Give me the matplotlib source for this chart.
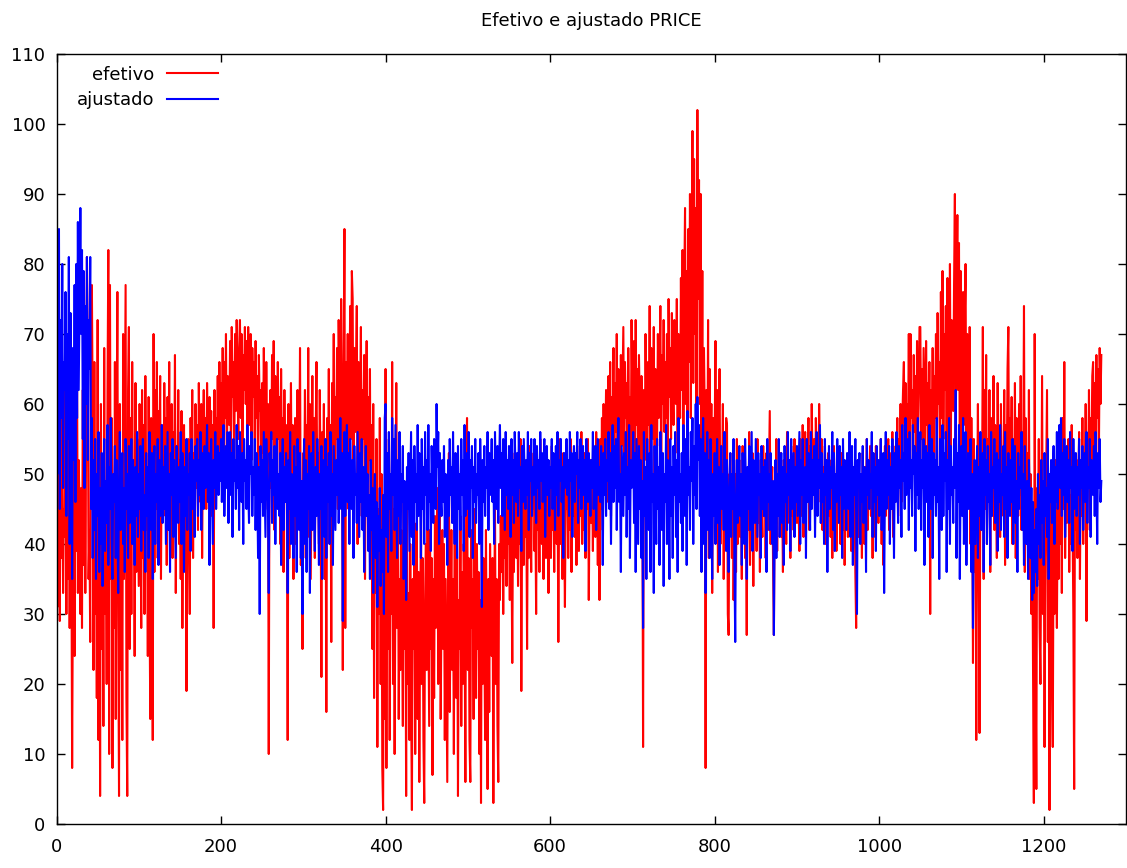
import matplotlib
matplotlib.use("Agg")
import matplotlib.pyplot as plt
import numpy as np

title = "Efetivo e ajustado PRICE"
label_efetivo = "efetivo"
label_ajustado = "ajustado"
x_ticks = [0, 200, 400, 600, 800, 1000, 1200]
y_ticks = [0, 10, 20, 30, 40, 50, 60, 70, 80, 90, 100, 110]

efetivo = [
    57, 31, 48, 62, 29, 52, 38, 60, 33, 45,
    41, 63, 30, 55, 35, 58, 28, 50, 44, 8,
    36, 60, 24, 57, 39, 64, 33, 52, 45, 30,
    48, 28, 62, 37, 70, 33, 55, 81, 67, 35,
    42, 26, 72, 77, 58, 22, 66, 30, 47, 18,
    72, 12, 55, 4, 60, 25, 50, 14, 68, 30,
    45, 20, 62, 82, 10, 77, 35, 58, 8, 50,
    28, 66, 15, 54, 76, 30, 4, 60, 22, 48,
    12, 70, 35, 55, 77, 18, 4, 62, 71, 25,
    58, 30, 66, 40, 52, 24, 63, 36, 55, 45,
    34, 60, 46, 28, 62, 38, 57, 30, 64, 42,
    50, 24, 61, 33, 15, 58, 40, 12, 70, 36,
    62, 45, 66, 38, 59, 48, 64, 35, 57, 52,
    44, 63, 50, 58, 37, 61, 47, 66, 42, 55,
    60, 38, 56, 48, 67, 33, 54, 45, 62, 40,
    52, 35, 59, 28, 48, 57, 37, 50, 19, 44,
    55, 41, 30, 58, 47, 62, 38, 53, 44, 60,
    48, 57, 42, 63, 51, 46, 60, 38, 55, 62,
    50, 58, 45, 63, 54, 47, 61, 52, 59, 44,
    57, 28, 62, 49, 58, 53, 64, 50, 66, 55,
    63, 55, 68, 52, 66, 58, 70, 50, 64, 60,
    57, 69, 53, 71, 61, 66, 50, 70, 59, 72,
    64, 55, 68, 72, 58, 70, 49, 67, 62, 71,
    60, 69, 54, 71, 63, 57, 70, 52, 68, 61,
    66, 55, 69, 58, 64, 50, 67, 59, 62, 48,
    63, 53, 68, 57, 45, 66, 52, 60, 10, 58,
    62, 48, 67, 55, 69, 42, 64, 58, 50, 66,
    55, 61, 40, 65, 50, 58, 36, 62, 47, 57,
    45, 12, 60, 38, 52, 63, 42, 57, 35, 48,
    58, 40, 54, 62, 46, 50, 68, 37, 44, 25,
    53, 45, 62, 38, 57, 48, 68, 41, 60, 35,
    50, 64, 43, 58, 38, 55, 66, 46, 53, 40,
    62, 48, 21, 56, 44, 60, 35, 52, 16, 58,
    47, 65, 40, 57, 26, 63, 50, 70, 43, 61,
    55, 68, 45, 72, 60, 50, 75, 58, 22, 64,
    85, 28, 66, 52, 70, 45, 62, 74, 55, 79,
    75, 48, 68, 56, 63, 74, 40, 66, 52, 60,
    71, 44, 62, 55, 67, 35, 58, 69, 47, 61,
    52, 65, 38, 57, 25, 60, 18, 49, 33, 55,
    11, 45, 30, 58, 20, 50, 8, 2, 42, 15,
    65, 8, 48, 25, 55, 12, 40, 30, 66, 20,
    45, 10, 38, 63, 28, 50, 15, 35, 22, 42,
    30, 14, 48, 25, 38, 4, 45, 20, 33, 12,
    40, 18, 2, 35, 25, 43, 10, 30, 43, 15,
    36, 6, 28, 45, 20, 38, 12, 3, 32, 40,
    22, 46, 30, 14, 42, 25, 38, 7, 35, 18,
    44, 28, 40, 48, 20, 36, 45, 15, 32, 42,
    25, 40, 12, 35, 20, 6, 38, 53, 16, 30,
    42, 22, 35, 10, 45, 28, 18, 38, 4, 32,
    25, 44, 14, 36, 20, 40, 30, 6, 48, 58,
    22, 38, 12, 6, 42, 28, 35, 15, 45, 30,
    18, 40, 25, 36, 10, 32, 3, 44, 20, 38,
    28, 12, 42, 22, 5, 35, 16, 40, 30, 24,
    38, 3, 30, 45, 20, 35, 14, 6, 40, 32,
    44, 36, 50, 30, 46, 38, 52, 34, 48, 40,
    45, 32, 51, 40, 23, 47, 36, 53, 42, 38,
    50, 34, 46, 40, 55, 19, 44, 48, 37, 52,
    41, 47, 25, 50, 38, 54, 43, 36, 49, 45,
    53, 39, 46, 30, 51, 42, 48, 36, 55, 44,
    40, 50, 35, 47, 53, 38, 45, 49, 33, 51,
    46, 38, 54, 42, 48, 36, 52, 44, 40, 50,
    26, 47, 55, 40, 49, 35, 53, 43, 31, 48,
    45, 52, 38, 50, 42, 55, 36, 48, 44, 53,
    41, 49, 37, 54, 46, 39, 51, 44, 56, 40,
    48, 42, 53, 38, 50, 45, 55, 32, 47, 52,
    43, 50, 39, 54, 46, 41, 56, 48, 37, 52,
    32, 55, 45, 58, 42, 60, 48, 53, 62, 46,
    58, 64, 50, 66, 44, 61, 55, 68, 48, 63,
    56, 70, 50, 65, 59, 47, 67, 54, 62, 71,
    52, 66, 58, 63, 45, 68, 55, 61, 50, 72,
    60, 54, 69, 48, 72, 57, 65, 50, 67, 59,
    46, 64, 55, 11, 62, 52, 70, 58, 48, 66,
    57, 74, 50, 68, 60, 55, 71, 45, 65, 62,
    54, 70, 58, 64, 74, 50, 67, 60, 72, 56,
    66, 58, 70, 52, 75, 61, 68, 55, 73, 63,
    57, 72, 64, 60, 75, 53, 70, 66, 58, 78,
    62, 82, 55, 76, 88, 60, 79, 52, 85, 66,
    90, 58, 80, 99, 63, 95, 70, 88, 56, 102,
    75, 92, 60, 90, 54, 79, 48, 68, 58, 8,
    62, 45, 72, 38, 65, 50, 60, 33, 58, 47,
    55, 69, 42, 62, 36, 57, 65, 40, 53, 48,
    60, 35, 52, 44, 58, 57, 30, 27, 50, 42,
    48, 38, 53, 32, 45, 50, 36, 55, 40, 47,
    52, 41, 46, 35, 54, 43, 49, 38, 44, 27,
    50, 42, 56, 37, 48, 45, 53, 34, 51, 44,
    47, 39, 55, 43, 50, 36, 52, 46, 41, 54,
    44, 49, 38, 53, 45, 42, 50, 59, 40, 48,
    51, 37, 27, 46, 42, 55, 39, 50, 44, 48,
    53, 41, 47, 36, 52, 45, 49, 40, 56, 43,
    46, 51, 38, 54, 44, 48, 42, 55, 47, 50,
    43, 52, 46, 39, 55, 48, 44, 57, 41, 50,
    56, 45, 53, 49, 58, 42, 54, 47, 60, 51,
    48, 55, 44, 58, 50, 53, 46, 60, 52, 49,
    55, 42, 51, 47, 54, 40, 50, 45, 53, 44,
    49, 41, 52, 38, 47, 54, 43, 50, 39, 46,
    51, 44, 48, 40, 53, 46, 42, 50, 37, 47,
    45, 52, 41, 49, 44, 54, 39, 47, 51, 43,
    48, 36, 28, 46, 52, 41, 50, 44, 49, 38,
    53, 45, 40, 51, 47, 55, 42, 48, 46, 54,
    44, 50, 38, 52, 47, 41, 54, 45, 49, 43,
    51, 46, 55, 40, 52, 37, 48, 54, 44, 50,
    47, 55, 42, 53, 49, 45, 56, 41, 52, 48,
    54, 47, 58, 44, 55, 50, 60, 46, 57, 62,
    66, 52, 63, 48, 60, 55, 70, 51, 70, 58,
    62, 50, 67, 56, 64, 47, 69, 53, 61, 71,
    71, 55, 65, 48, 68, 60, 52, 69, 57, 63,
    50, 66, 30, 62, 54, 68, 47, 64, 58, 70,
    52, 73, 60, 66, 48, 76, 58, 79, 55, 70,
    62, 74, 50, 78, 66, 57, 80, 52, 72, 64,
    59, 77, 90, 54, 75, 87, 62, 83, 50, 79,
    68, 48, 76, 57, 72, 80, 45, 70, 60, 52,
    71, 40, 58, 48, 23, 55, 36, 50, 12, 45,
    60, 38, 13, 52, 42, 48, 71, 35, 62, 45,
    67, 40, 55, 47, 62, 36, 58, 44, 52, 64,
    42, 57, 50, 38, 63, 46, 55, 41, 60, 48,
    53, 44, 62, 37, 57, 49, 65, 71, 45, 58,
    50, 61, 40, 55, 46, 63, 38, 58, 52, 44,
    60, 47, 64, 42, 56, 50, 74, 36, 58, 45,
    53, 41, 62, 35, 50, 30, 44, 22, 3, 70,
    25, 5, 48, 35, 55, 28, 20, 42, 64, 30,
    45, 11, 38, 50, 62, 26, 40, 2, 33, 48,
    20, 11, 44, 30, 52, 38, 28, 46, 35, 55,
    40, 50, 33, 58, 45, 66, 38, 52, 43, 48,
    55, 36, 47, 40, 57, 44, 30, 5, 50, 42,
    52, 38, 48, 56, 35, 50, 44, 58, 40, 53,
    46, 60, 29, 55, 48, 62, 42, 58, 52, 64,
    66, 50, 63, 55, 67, 58, 65, 52, 68, 60,
    67,
]

ajustado = [
    70, 50, 76, 85, 45, 72, 58, 80, 48, 66,
    62, 76, 44, 70, 55, 81, 40, 73, 60, 35,
    68, 52, 77, 46, 80, 58, 86, 62, 75, 88,
    70, 82, 55, 79, 48, 74, 60, 81, 52, 72,
    65, 81, 45, 58, 38, 52, 42, 55, 35, 50,
    44, 56, 36, 48, 40, 53, 34, 47, 55, 39,
    49, 43, 57, 37, 51, 45, 58, 41, 35, 50,
    46, 54, 38, 52, 44, 33, 49, 56, 42, 47,
    53, 40, 48, 36, 55, 45, 50, 38, 54, 43,
    48, 55, 40, 52, 46, 37, 51, 44, 56, 41,
    50, 45, 54, 39, 49, 55, 42, 47, 36, 53,
    44, 51, 38, 56, 46, 42, 53, 35, 48, 54,
    40, 50, 46, 55, 37, 52, 44, 49, 57, 43,
    51, 45, 54, 40, 48, 56, 42, 50, 36, 53,
    47, 55, 41, 52, 45, 38, 54, 48, 43, 51,
    46, 56, 40, 53, 49, 36, 51, 44, 55, 42,
    50, 47, 53, 39, 55, 45, 52, 48, 41, 54,
    49, 55, 44, 52, 47, 56, 42, 53, 50, 45,
    54, 48, 51, 57, 46, 53, 37, 50, 55, 47,
    40, 52, 48, 56, 45, 51, 54, 47, 53, 49,
    55, 46, 52, 57, 44, 50, 54, 48, 56, 43,
    51, 56, 47, 53, 41, 55, 49, 52, 45, 57,
    48, 54, 42, 56, 50, 46, 53, 40, 55, 49,
    52, 45, 57, 48, 43, 54, 50, 56, 44, 51,
    47, 55, 42, 53, 49, 38, 51, 30, 54, 46,
    52, 44, 56, 48, 41, 55, 50, 46, 33, 53,
    49, 56, 43, 52, 47, 54, 40, 51, 55, 45,
    50, 44, 53, 37, 48, 55, 42, 51, 46, 53,
    47, 33, 52, 45, 56, 40, 50, 48, 38, 54,
    44, 51, 36, 55, 47, 42, 53, 38, 49, 30,
    48, 55, 40, 52, 36, 50, 45, 54, 33, 49,
    53, 42, 56, 46, 39, 51, 44, 55, 48, 37,
    50, 45, 54, 35, 52, 47, 41, 55, 38, 51,
    46, 53, 40, 56, 44, 50, 37, 54, 48, 42,
    52, 47, 55, 43, 50, 58, 45, 53, 29, 49,
    56, 44, 51, 57, 46, 53, 40, 55, 49, 45,
    52, 38, 54, 47, 50, 43, 56, 48, 41, 53,
    46, 55, 42, 51, 36, 49, 54, 44, 50, 39,
    47, 35, 52, 42, 48, 33, 45, 50, 38, 46,
    31, 44, 39, 48, 34, 42, 36, 47, 30, 58,
    60, 41, 53, 36, 56, 45, 50, 39, 58, 47,
    55, 42, 57, 48, 38, 52, 44, 56, 40, 50,
    46, 54, 35, 49, 43, 32, 51, 45, 53, 39,
    48, 56, 41, 52, 37, 54, 46, 50, 42, 57,
    44, 53, 48, 38, 55, 45, 51, 40, 56, 47,
    52, 42, 57, 46, 50, 39, 54, 48, 43, 55,
    49, 45, 60, 51, 56, 40, 53, 47, 44, 52,
    46, 54, 41, 50, 48, 37, 52, 44, 55, 47,
    51, 43, 56, 46, 40, 53, 48, 38, 54, 45,
    50, 42, 55, 47, 52, 39, 57, 44, 49, 53,
    45, 56, 41, 52, 48, 54, 38, 51, 46, 55,
    43, 50, 47, 53, 40, 55, 49, 31, 52, 46,
    54, 44, 51, 48, 56, 42, 53, 47, 50, 55,
    46, 52, 40, 56, 49, 45, 54, 43, 51, 57,
    48, 53, 44, 55, 50, 42, 56, 47, 52, 45,
    54, 49, 41, 55, 47, 52, 43, 56, 50, 46,
    53, 44, 56, 48, 51, 39, 54, 46, 55, 50,
    45, 52, 47, 56, 42, 53, 49, 55, 44, 51,
    47, 55, 50, 43, 54, 48, 52, 45, 56, 49,
    53, 46, 51, 55, 41, 50, 54, 47, 52, 44,
    51, 48, 55, 45, 53, 50, 42, 54, 47, 56,
    44, 52, 49, 55, 46, 51, 38, 53, 48, 50,
    55, 47, 52, 44, 56, 49, 53, 41, 51, 54,
    46, 53, 50, 56, 43, 52, 48, 55, 45, 51,
    54, 47, 52, 39, 55, 49, 46, 53, 50, 44,
    52, 48, 56, 45, 51, 54, 42, 50, 55, 47,
    51, 46, 54, 49, 37, 53, 47, 55, 44, 52,
    49, 56, 45, 53, 40, 51, 57, 46, 54, 48,
    55, 42, 52, 58, 46, 50, 36, 54, 49, 44,
    53, 47, 56, 41, 51, 45, 57, 38, 52, 48,
    50, 56, 43, 53, 36, 55, 47, 40, 54, 45,
    52, 38, 49, 28, 56, 44, 51, 35, 55, 47,
    42, 53, 36, 57, 46, 50, 33, 54, 48, 40,
    55, 45, 51, 37, 56, 48, 42, 53, 34, 50,
    46, 57, 40, 52, 48, 35, 55, 44, 51, 38,
    54, 47, 56, 41, 52, 36, 58, 46, 50, 43,
    53, 39, 57, 48, 44, 55, 37, 59, 47, 51,
    42, 56, 49, 58, 40, 54, 47, 60, 45, 61,
    52, 57, 44, 55, 36, 50, 58, 40, 53, 33,
    48, 56, 42, 52, 38, 55, 46, 35, 50, 44,
    53, 40, 47, 55, 43, 51, 37, 49, 54, 45,
    50, 42, 56, 46, 39, 52, 44, 36, 48, 53,
    41, 50, 45, 55, 38, 26, 47, 52, 43, 49,
    54, 44, 50, 37, 53, 46, 40, 55, 48, 35,
    51, 45, 54, 42, 49, 56, 39, 52, 46, 43,
    55, 48, 41, 53, 47, 50, 38, 54, 45, 51,
    44, 52, 48, 36, 55, 46, 50, 42, 53, 47,
    40, 49, 27, 45, 52, 38, 50, 44, 55, 41,
    48, 53, 43, 51, 37, 54, 46, 50, 42, 56,
    47, 52, 39, 55, 45, 49, 53, 41, 51, 46,
    54, 44, 50, 56, 40, 52, 47, 55, 43, 49,
    51, 38, 55, 46, 53, 48, 42, 56, 45, 52,
    47, 54, 41, 50, 56, 44, 52, 48, 57, 43,
    53, 46, 50, 40, 55, 47, 52, 36, 49, 54,
    45, 51, 48, 56, 42, 53, 39, 50, 46, 55,
    49, 43, 54, 47, 51, 38, 55, 45, 52, 48,
    42, 53, 50, 45, 56, 41, 49, 54, 37, 51,
    47, 55, 44, 30, 52, 48, 53, 40, 50, 46,
    54, 43, 51, 49, 36, 55, 47, 52, 45, 50,
    48, 56, 41, 53, 46, 51, 39, 54, 47, 52,
    44, 50, 55, 42, 49, 53, 33, 48, 56, 45,
    52, 47, 54, 40, 51, 45, 55, 48, 38, 53,
    46, 56, 50, 43, 54, 48, 52, 41, 57, 49,
    53, 45, 58, 47, 51, 55, 42, 56, 48, 52,
    44, 57, 50, 54, 39, 53, 47, 58, 45, 51,
    56, 42, 52, 48, 55, 37, 50, 54, 46, 53,
    41, 57, 49, 45, 55, 38, 53, 47, 52, 44,
    58, 46, 51, 35, 55, 48, 42, 57, 44, 53,
    49, 56, 36, 52, 45, 58, 40, 54, 47, 51,
    43, 55, 48, 62, 38, 53, 46, 57, 35, 50,
    54, 44, 58, 40, 51, 56, 37, 49, 53, 45,
    48, 55, 36, 50, 28, 45, 52, 40, 47, 54,
    38, 51, 44, 56, 42, 49, 53, 36, 55, 47,
    52, 40, 54, 46, 50, 37, 56, 44, 51, 48,
    55, 43, 49, 53, 39, 52, 46, 57, 42, 50,
    47, 54, 41, 56, 45, 51, 38, 53, 48, 44,
    52, 46, 55, 40, 50, 54, 43, 49, 36, 53,
    45, 51, 48, 56, 42, 50, 37, 54, 46, 40,
    49, 35, 52, 44, 38, 48, 32, 46, 33, 42,
    36, 45, 34, 50, 40, 47, 38, 52, 43, 49,
    37, 53, 44, 48, 41, 55, 35, 50, 46, 52,
    43, 49, 54, 40, 51, 46, 56, 45, 52, 57,
    48, 58, 44, 53, 47, 55, 41, 50, 54, 46,
    52, 43, 56, 48, 51, 39, 55, 45, 50, 53,
    44, 51, 47, 55, 40, 52, 48, 54, 42, 50,
    53, 46, 56, 43, 51, 48, 55, 41, 52, 49,
    47, 54, 44, 56, 50, 40, 53, 48, 55, 46,
    49,
]

n = min(len(efetivo), len(ajustado))
idx = np.arange(n)

plt.rcParams['font.family'] = ['DejaVu Sans']
fig = plt.figure(figsize=(11.27, 8.68), dpi=100)
ax = fig.add_axes([56.5 / 1127, 44 / 868, (1126 - 56.5) / 1127, 770 / 868])

ax.plot(idx, efetivo[:n], color='#ff0000', lw=1.5, label=label_efetivo)
ax.plot(idx, ajustado[:n], color='#0000ff', lw=1.5, label=label_ajustado)

ax.set_xlim(0, 1300)
ax.set_ylim(0, 110)
ax.set_xticks(x_ticks)
ax.set_yticks(y_ticks)
ax.tick_params(direction='in', length=6, width=1, top=True, right=True,
               labelsize=13, colors='black')
ax.tick_params(axis='y', pad=8)
ax.tick_params(axis='x', pad=10)
for s in ax.spines.values():
    s.set_linewidth(1.0)
    s.set_color('black')

ax.set_title(title, fontsize=13, pad=20)

leg = ax.legend(loc='upper left', bbox_to_anchor=(0.019, 0.985), frameon=False,
                markerfirst=False, handlelength=2.85, handletextpad=0.7,
                labelspacing=0.42, borderpad=0, borderaxespad=0, fontsize=13)

fig.savefig('out.png', dpi=100)
